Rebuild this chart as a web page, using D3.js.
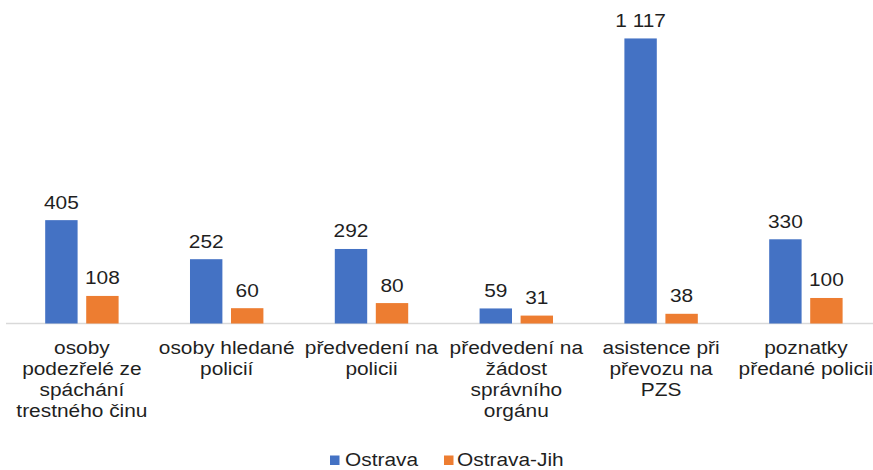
<!DOCTYPE html>
<html>
<head>
<meta charset="utf-8">
<script src="https://cdn.jsdelivr.net/npm/d3@7"></script>
<style>
  html, body { margin: 0; padding: 0; background: #fff; overflow: hidden; }
  svg { display: block; }
  text { font-family: Arial, "Liberation Sans", sans-serif; fill: #1f1f1f; }
</style>
</head>
<body>
<svg id="chart" width="873" height="470"></svg>
<script>
// ---- data ----
const categories = [
  ["osoby", "podezřelé ze", "spáchání", "trestného činu"],
  ["osoby hledané", "policií"],
  ["předvedení na", "policii"],
  ["předvedení na", "žádost", "správního", "orgánu"],
  ["asistence při", "převozu na", "PZS"],
  ["poznatky", "předané policii"]
];
const seriesNames = ["Ostrava", "Ostrava-Jih"];
const ostrava = [405, 252, 292, 59, 1117, 330];
const ostravaJih = [108, 60, 80, 31, 38, 100];
const seriesColors = ["#4472C4", "#ED7D31"];

// ---- layout ----
const W = 873, H = 470;
const baseY = 323.5;
const sx = 1.16; // horizontal stretch of the original rendering
const fontSize = 18;

const svg = d3.select("#chart");
const catIdx = d3.range(categories.length);
const values = [ostrava, ostravaJih];

const x0 = d3.scaleBand().domain(catIdx).range([9.5, 878.3])
  .paddingInner(0.493).paddingOuter(0.2465);
const x1 = d3.scaleBand().domain(d3.range(seriesNames.length))
  .range([0, x0.bandwidth()]).paddingInner(0.21).paddingOuter(0);
const y = d3.scaleLinear().domain([0, 1200]).range([baseY, baseY - 1200 * 0.2552]);

const fmt = v => d3.format(",")(v).replace(/,/g, " ");

// axis line
const xAxis = d3.axisBottom(x0).tickSize(0).tickFormat("");
const axG = svg.append("g").attr("transform", `translate(0,${baseY})`).call(xAxis);
axG.select(".domain").attr("d", `M6,0H${W}`).attr("stroke", "#d9d9d9").attr("stroke-width", 1.5);

// bars
const groups = svg.append("g").selectAll("g").data(catIdx).join("g")
  .attr("transform", d => `translate(${x0(d)},0)`);

groups.selectAll("rect")
  .data(c => values.map((s, i) => ({ c, i, v: s[c] })))
  .join("rect")
  .attr("x", d => x1(d.i))
  .attr("width", x1.bandwidth())
  .attr("y", d => y(d.v))
  .attr("height", d => baseY - y(d.v))
  .attr("fill", d => seriesColors[d.i]);

// value labels
groups.selectAll("text.val")
  .data(c => values.map((s, i) => ({ c, i, v: s[c] })))
  .join("text")
  .attr("class", "val")
  .attr("text-anchor", "middle")
  .attr("font-size", fontSize)
  .attr("transform", d => `translate(${x1(d.i) + x1.bandwidth() / 2},${y(d.v) - 11.5}) scale(${sx},1)`)
  .text(d => fmt(d.v));

// category labels
const catG = svg.append("g").selectAll("text").data(catIdx).join("text")
  .attr("text-anchor", "middle")
  .attr("font-size", fontSize)
  .attr("transform", d => `translate(${x0(d) + x0.bandwidth() / 2},354) scale(${sx},1)`);
catG.selectAll("tspan").data(d => categories[d]).join("tspan")
  .attr("x", 0)
  .attr("y", (d, i) => i * 21)
  .text(d => d);

// legend
const legendItems = [
  { name: seriesNames[0], color: seriesColors[0], sq: 330, tx: 345 },
  { name: seriesNames[1], color: seriesColors[1], sq: 444, tx: 457 }
];
const lg = svg.append("g");
legendItems.forEach(it => {
  lg.append("rect").attr("x", it.sq).attr("y", 455.5).attr("width", 9.5).attr("height", 9.5).attr("fill", it.color);
  lg.append("text").attr("font-size", fontSize)
    .attr("transform", `translate(${it.tx},466) scale(${sx},1)`)
    .text(it.name);
});
</script>
</body>
</html>
